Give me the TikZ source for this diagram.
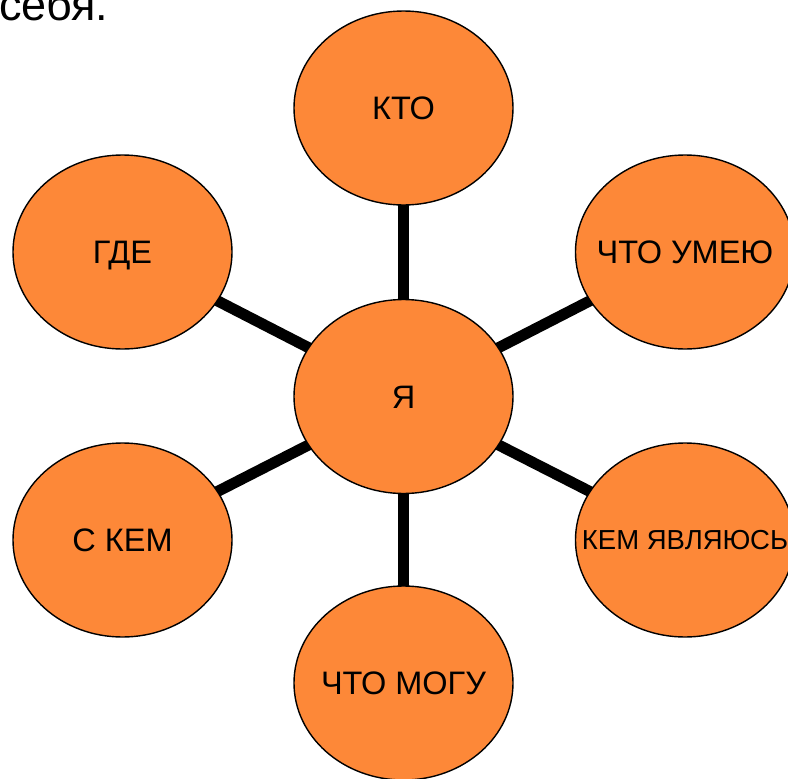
\documentclass[tikz,border=0pt]{standalone}
\usepackage{fontspec}
\setmainfont{Liberation Sans}
\usetikzlibrary{shapes.geometric}
\pgfdeclarelayer{bg}
\pgfsetlayers{bg,main}
\definecolor{blobfill}{RGB}{253,136,56}
\tikzset{
  blob/.style={ellipse, draw=black, line width=1.4pt, fill=blobfill,
    minimum width=219pt, minimum height=194pt, inner sep=0pt},
  blobtext/.style={font=\fontsize{32.5}{39}\selectfont, text height=23.3pt, text depth=0pt, inner sep=0pt},
  smalltext/.style={font=\fontsize{27.5}{33}\selectfont, text height=19.7pt, text depth=0pt, inner sep=0pt},
  spoke/.style={line width=11pt, black}
}
\begin{document}
\begin{tikzpicture}[x=1pt,y=-1pt]
\useasboundingbox (0,0) rectangle (788,779);
\clip (0,0) rectangle (788,779);
\node[anchor=base west, inner sep=0pt, font=\fontsize{45}{54}\selectfont] (title) at (-1,20.5) {себя.};
\node[blob, label={[blobtext]center:Я}] (ya) at (403.5,396.5) {};
\node[blob, label={[blobtext]center:КТО}] (kto) at (403.5,108) {};
\node[blob, label={[blobtext]center:ГДЕ}] (gde) at (122.5,252) {};
\node[blob, label={[blobtext]center:ЧТО УМЕЮ}] (umeyu) at (685,252) {};
\node[blob, label={[blobtext]center:С КЕМ}] (skem) at (122.5,540) {};
\node[blob, label={[smalltext]center:КЕМ ЯВЛЯЮСЬ}] (yavl) at (685,540) {};
\node[blob, label={[blobtext]center:ЧТО МОГУ}] (mogu) at (403.5,683) {};
\begin{pgfonlayer}{bg}
\draw[spoke] (ya.center) -- (kto.center);
\draw[spoke] (ya.center) -- (gde.center);
\draw[spoke] (ya.center) -- (umeyu.center);
\draw[spoke] (ya.center) -- (skem.center);
\draw[spoke] (ya.center) -- (yavl.center);
\draw[spoke] (ya.center) -- (mogu.center);
\end{pgfonlayer}
\end{tikzpicture}
\end{document}
